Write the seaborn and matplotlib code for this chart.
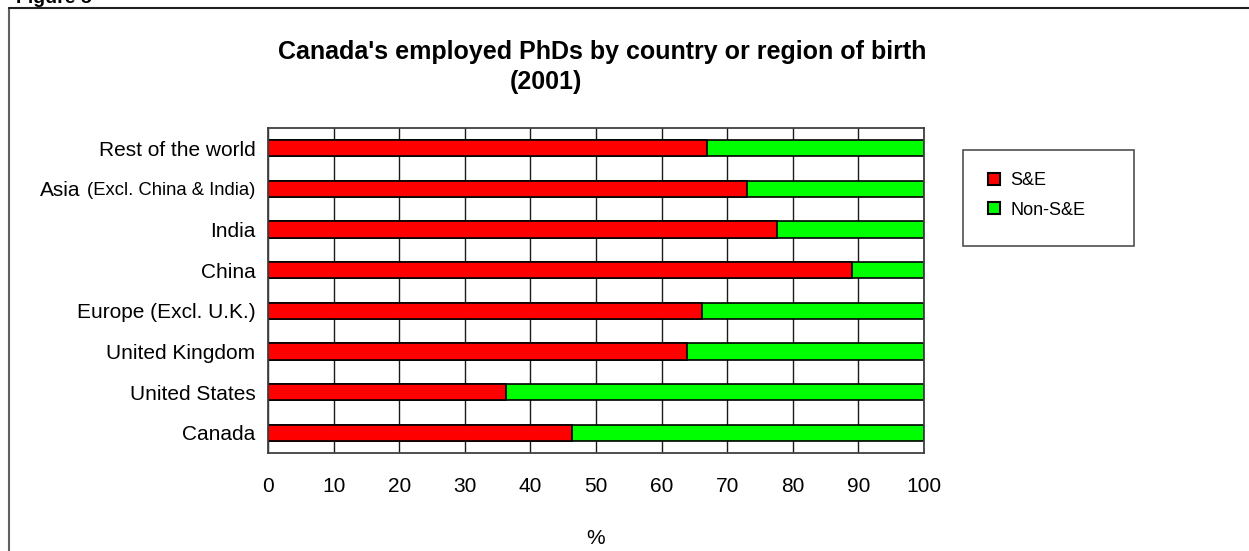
import matplotlib
matplotlib.use("Agg")
import matplotlib.pyplot as plt
import matplotlib.transforms as mtransforms
from matplotlib.lines import Line2D
from matplotlib.patches import Rectangle
import seaborn as sns
import pandas as pd

# Employed PhDs in Canada, share (%) by field, per country/region of birth
regions = ["Rest of the world", "Asia (Excl. China & India)", "India", "China",
           "Europe (Excl. U.K.)", "United Kingdom", "United States", "Canada"]
se_share = [66.9, 73.0, 77.6, 89.1, 66.2, 63.9, 36.3, 46.4]
non_se_share = [33.1, 27.0, 22.4, 10.9, 33.8, 36.1, 63.7, 53.6]
x_ticks = [0, 10, 20, 30, 40, 50, 60, 70, 80, 90, 100]
series_names = ["S&E", "Non-S&E"]

sns.set_style("white")
plt.rcParams["font.family"] = ["Liberation Sans", "DejaVu Sans"]
plt.rcParams["text.color"] = "black"
plt.rcParams["xtick.color"] = "black"
plt.rcParams["ytick.color"] = "black"
plt.rcParams["axes.labelcolor"] = "black"

df = pd.DataFrame({"region": regions, "se": se_share, "non_se": non_se_share})
df["stack_end"] = df["se"] + df["non_se"]

W, H = 1249, 551
fig = plt.figure(figsize=(W / 100, H / 100), dpi=100)
ax = fig.add_axes([268 / W, 1 - 453 / H, (924 - 268) / W, (453 - 128) / H])

red, green = "#FF0000", "#00FF00"
# stacked horizontal bars: full stack in green, S&E share on top in red
sns.barplot(data=df, x="stack_end", y="region", order=regions, orient="h",
            color=green, saturation=1, width=0.4, edgecolor="black",
            linewidth=1.2, ax=ax)
sns.barplot(data=df, x="se", y="region", order=regions, orient="h",
            color=red, saturation=1, width=0.4, edgecolor="black",
            linewidth=1.2, ax=ax)

ax.set_xlim(0, 100)
ax.set_xticks(x_ticks)
ax.set_xticklabels([str(t) for t in x_ticks], fontsize=15)
ax.xaxis.grid(True, color="#1a1a1a", linewidth=1.0)
ax.yaxis.grid(False)
ax.set_axisbelow(True)
ax.tick_params(axis="x", length=0, pad=17)
ax.tick_params(axis="y", length=0, pad=9)
for sp in ax.spines.values():
    sp.set_visible(True)
    sp.set_color("#404040")
    sp.set_linewidth(1.3)

ax.set_ylabel("")
ax.set_xlabel("%", fontsize=15, labelpad=24)

# y labels; the Asia entry uses a larger "Asia" followed by a smaller qualifier
asia_idx = regions.index("Asia (Excl. China & India)")
labels = list(regions)
labels[asia_idx] = "(Excl. China & India)"
ax.set_yticks(range(len(regions)))
ax.set_yticklabels(labels, fontsize=15)
ax.get_yticklabels()[asia_idx].set_fontsize(13.3)

# two-line chart title
fig.text(602 / W, 1 - 50 / H, "Canada's employed PhDs by country or region of birth",
         ha="center", va="center_baseline", fontsize=18, fontweight="bold")
fig.text(546 / W, 1 - 79 / H, "(2001)",
         ha="center", va="center_baseline", fontsize=18, fontweight="bold")

fig.canvas.draw()
renderer = fig.canvas.get_renderer()
bb = ax.get_yticklabels()[asia_idx].get_window_extent(renderer)
trans = mtransforms.blended_transform_factory(fig.transFigure, ax.transData)
fig.text((bb.x0 - 7) / W, asia_idx, "Asia", transform=trans,
         ha="right", va="center_baseline", fontsize=15)

# legend: entries without frame, box drawn separately
leg_handles = [Rectangle((0, 0), 1, 1, facecolor=red, edgecolor="black", lw=1.5),
               Rectangle((0, 0), 1, 1, facecolor=green, edgecolor="black", lw=1.5)]
fig.legend(leg_handles, series_names, loc="upper left",
           bbox_to_anchor=(988 / W, 1 - 172 / H), frameon=False, fontsize=13,
           handlelength=0.65, handleheight=0.65, handletextpad=0.6,
           labelspacing=0.7, borderpad=0, borderaxespad=0)
fig.add_artist(Rectangle((963 / W, 1 - 246 / H), (1134 - 963) / W, (246 - 150) / H,
                         transform=fig.transFigure, facecolor="none",
                         edgecolor="#505050", linewidth=1.2))

# outer frame of the figure panel and its caption
fig.add_artist(Line2D([9 / W, 9 / W], [0, 1 - 8 / H], transform=fig.transFigure,
                      color="#606060", linewidth=1.5))
fig.add_artist(Line2D([9 / W, 1], [1 - 8 / H, 1 - 8 / H], transform=fig.transFigure,
                      color="#202020", linewidth=1.5))
fig.text(16 / W, 1 - 3 / H, "Figure 5", fontsize=14, fontweight="bold",
         ha="left", va="baseline")

fig.savefig("out.png", dpi=100)
